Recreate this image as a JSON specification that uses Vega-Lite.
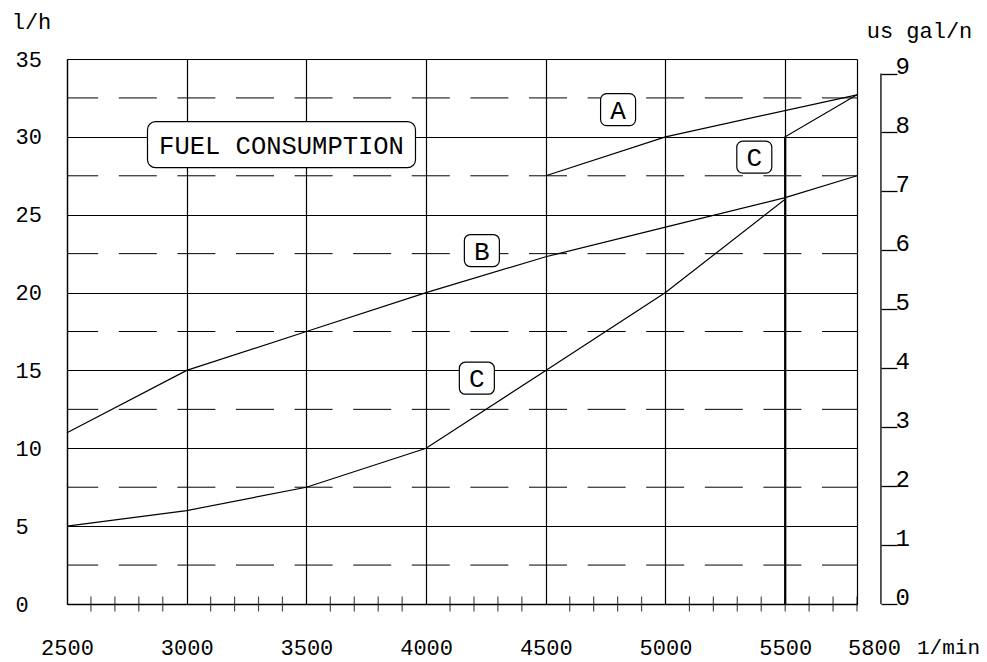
{
  "$schema": "https://vega.github.io/schema/vega-lite/v6.json",
  "width": 790,
  "height": 545,
  "autosize": {"type": "none"},
  "padding": {"left": 67, "top": 59, "right": 130, "bottom": 58},
  "background": "white",
  "config": {
    "view": {"stroke": null},
    "font": "Liberation Mono",
    "axis": {"labelFont": "Liberation Mono", "titleFont": "Liberation Mono", "labelColor": "black", "titleColor": "black", "titleFontWeight": "normal"}
  },
  "datasets": {
    "curves": [
      {"series": "A", "i": 1, "rpm": 4500, "lh": 27.5},
      {"series": "A", "i": 2, "rpm": 5000, "lh": 30},
      {"series": "A", "i": 3, "rpm": 5800, "lh": 32.7},
      {"series": "B", "i": 1, "rpm": 2500, "lh": 11},
      {"series": "B", "i": 2, "rpm": 3000, "lh": 15},
      {"series": "B", "i": 3, "rpm": 3500, "lh": 17.5},
      {"series": "B", "i": 4, "rpm": 4000, "lh": 20},
      {"series": "B", "i": 5, "rpm": 4500, "lh": 22.3},
      {"series": "B", "i": 6, "rpm": 5000, "lh": 24.2},
      {"series": "B", "i": 7, "rpm": 5500, "lh": 26.1},
      {"series": "B", "i": 8, "rpm": 5800, "lh": 27.5},
      {"series": "C", "i": 1, "rpm": 2500, "lh": 5},
      {"series": "C", "i": 2, "rpm": 3000, "lh": 6},
      {"series": "C", "i": 3, "rpm": 3500, "lh": 7.5},
      {"series": "C", "i": 4, "rpm": 4000, "lh": 10},
      {"series": "C", "i": 5, "rpm": 4500, "lh": 15},
      {"series": "C", "i": 6, "rpm": 5000, "lh": 20},
      {"series": "C", "i": 7, "rpm": 5500, "lh": 26},
      {"series": "C", "i": 8, "rpm": 5500, "lh": 30},
      {"series": "C", "i": 9, "rpm": 5800, "lh": 32.7}
    ],
    "halfLines": [
      {"lh": 2.5}, {"lh": 7.5}, {"lh": 12.5}, {"lh": 17.5}, {"lh": 22.5}, {"lh": 27.5}, {"lh": 32.5}
    ],
    "minorTicks": [
      {"rpm": 2600}, {"rpm": 2700}, {"rpm": 2800}, {"rpm": 2900},
      {"rpm": 3100}, {"rpm": 3200}, {"rpm": 3300}, {"rpm": 3400},
      {"rpm": 3600}, {"rpm": 3700}, {"rpm": 3800}, {"rpm": 3900},
      {"rpm": 4100}, {"rpm": 4200}, {"rpm": 4300}, {"rpm": 4400},
      {"rpm": 4600}, {"rpm": 4700}, {"rpm": 4800}, {"rpm": 4900},
      {"rpm": 5100}, {"rpm": 5200}, {"rpm": 5300}, {"rpm": 5400},
      {"rpm": 5500}, {"rpm": 5600}, {"rpm": 5700}, {"rpm": 5800}
    ],
    "limit": [{"rpm": 5500, "lh": 0, "lh2": 30}],
    "letters": [
      {"label": "A", "rpm": 4802, "lh": 31.75},
      {"label": "B", "rpm": 4233, "lh": 22.7},
      {"label": "C", "rpm": 4212, "lh": 14.5},
      {"label": "C", "rpm": 5371, "lh": 28.7}
    ],
    "heading": [{"label": "FUEL CONSUMPTION", "rpm": 3396, "lh": 29.5}],
    "gal": [{"gal": 0, "gal2": 9}]
  },
  "layer": [
    {
      "layer": [
        {
          "data": {"name": "halfLines"},
          "mark": {"type": "rule", "color": "black", "strokeWidth": 1, "strokeDash": [38, 20.6], "strokeDashOffset": 3},
          "encoding": {
            "y": {
              "field": "lh", "type": "quantitative",
              "scale": {"domain": [0, 35], "nice": false, "zero": false},
              "axis": {
                "values": [0, 5, 10, 15, 20, 25, 30, 35],
                "grid": true, "gridColor": "black", "gridOpacity": 1, "gridWidth": 1,
                "domain": true, "domainColor": "black", "domainWidth": 1.3,
                "ticks": false, "tickSize": 0,
                "labelAlign": "left", "labelBaseline": "middle", "labelPadding": 52, "labelFontSize": 22,
                "title": "l/h", "titleAngle": 0, "titleX": -36, "titleY": -38, "titleAlign": "center", "titleBaseline": "middle", "titleFontSize": 22
              }
            }
          }
        },
        {
          "data": {"name": "curves"},
          "mark": {"type": "line", "color": "black", "strokeWidth": 1.2},
          "encoding": {
            "x": {
              "field": "rpm", "type": "quantitative",
              "scale": {"domain": [2500, 5800], "nice": false, "zero": false},
              "axis": {
                "values": [2500, 3000, 3500, 4000, 4500, 5000, 5500, 5800],
                "format": "d",
                "grid": true, "gridColor": "black", "gridOpacity": 1, "gridWidth": 1.2,
                "domain": true, "domainColor": "black", "domainWidth": 1.3,
                "ticks": false, "tickSize": 0,
                "labelAlign": "center", "labelBaseline": "middle", "labelPadding": 43, "labelFontSize": 22,
                "labelOffset": {"condition": {"test": "datum.value === 5800", "value": 17}, "value": 0},
                "title": "1/min", "titleX": 881, "titleY": 43, "titleAlign": "center", "titleBaseline": "middle", "titleFontSize": 21
              }
            },
            "y": {"field": "lh", "type": "quantitative"},
            "detail": {"field": "series"},
            "order": {"field": "i"}
          }
        },
        {
          "data": {"name": "limit"},
          "mark": {"type": "rule", "color": "black", "strokeWidth": 2.2},
          "encoding": {
            "x": {"field": "rpm", "type": "quantitative"},
            "y": {"field": "lh", "type": "quantitative"},
            "y2": {"field": "lh2"}
          }
        },
        {
          "data": {"name": "minorTicks"},
          "mark": {"type": "tick", "orient": "vertical", "color": "black", "thickness": 1.2, "clip": false},
          "encoding": {
            "x": {"field": "rpm", "type": "quantitative"},
            "y": {"datum": 0, "type": "quantitative"},
            "size": {"value": 15}
          }
        },
        {
          "data": {"name": "letters"},
          "mark": {"type": "rect", "width": 35, "height": 32, "cornerRadius": 6, "fill": "white", "stroke": "black", "strokeWidth": 1.2},
          "encoding": {
            "x": {"field": "rpm", "type": "quantitative"},
            "y": {"field": "lh", "type": "quantitative"}
          }
        },
        {
          "data": {"name": "letters"},
          "mark": {"type": "text", "fontSize": 26, "font": "Liberation Mono", "color": "black", "baseline": "middle", "align": "center", "dy": 1},
          "encoding": {
            "x": {"field": "rpm", "type": "quantitative"},
            "y": {"field": "lh", "type": "quantitative"},
            "text": {"field": "label"}
          }
        },
        {
          "data": {"name": "heading"},
          "mark": {"type": "rect", "width": 268, "height": 46, "cornerRadius": 8, "fill": "white", "stroke": "black", "strokeWidth": 1.2},
          "encoding": {
            "x": {"field": "rpm", "type": "quantitative"},
            "y": {"field": "lh", "type": "quantitative"}
          }
        },
        {
          "data": {"name": "heading"},
          "mark": {"type": "text", "fontSize": 25.5, "font": "Liberation Mono", "color": "black", "baseline": "middle", "align": "center", "dy": 1},
          "encoding": {
            "x": {"field": "rpm", "type": "quantitative"},
            "y": {"field": "lh", "type": "quantitative"},
            "text": {"field": "label"}
          }
        }
      ]
    },
    {
      "data": {"name": "gal"},
      "mark": {"type": "rule", "color": "black", "strokeWidth": 1.3, "clip": false},
      "encoding": {
        "x": {"datum": 5900, "type": "quantitative"},
        "y": {
          "field": "gal", "type": "quantitative",
          "scale": {"domain": [0, 9.246], "nice": false, "zero": false},
          "axis": {
            "orient": "right", "offset": 24,
            "values": [0, 1, 2, 3, 4, 5, 6, 7, 8, 9],
            "grid": false,
            "domain": false,
            "ticks": true, "tickSize": 16, "tickColor": "black", "tickWidth": 1.3,
            "labelAlign": "left", "labelBaseline": "alphabetic", "labelPadding": -2, "labelFontSize": 24,
            "labelBound": false, "labelOverlap": false,
            "title": "us gal/n", "titleAngle": 0, "titleX": 38, "titleY": -29, "titleAlign": "center", "titleBaseline": "middle", "titleFontSize": 22
          }
        },
        "y2": {"field": "gal2"}
      }
    }
  ],
  "resolve": {"scale": {"y": "independent"}, "axis": {"y": "independent"}}
}
